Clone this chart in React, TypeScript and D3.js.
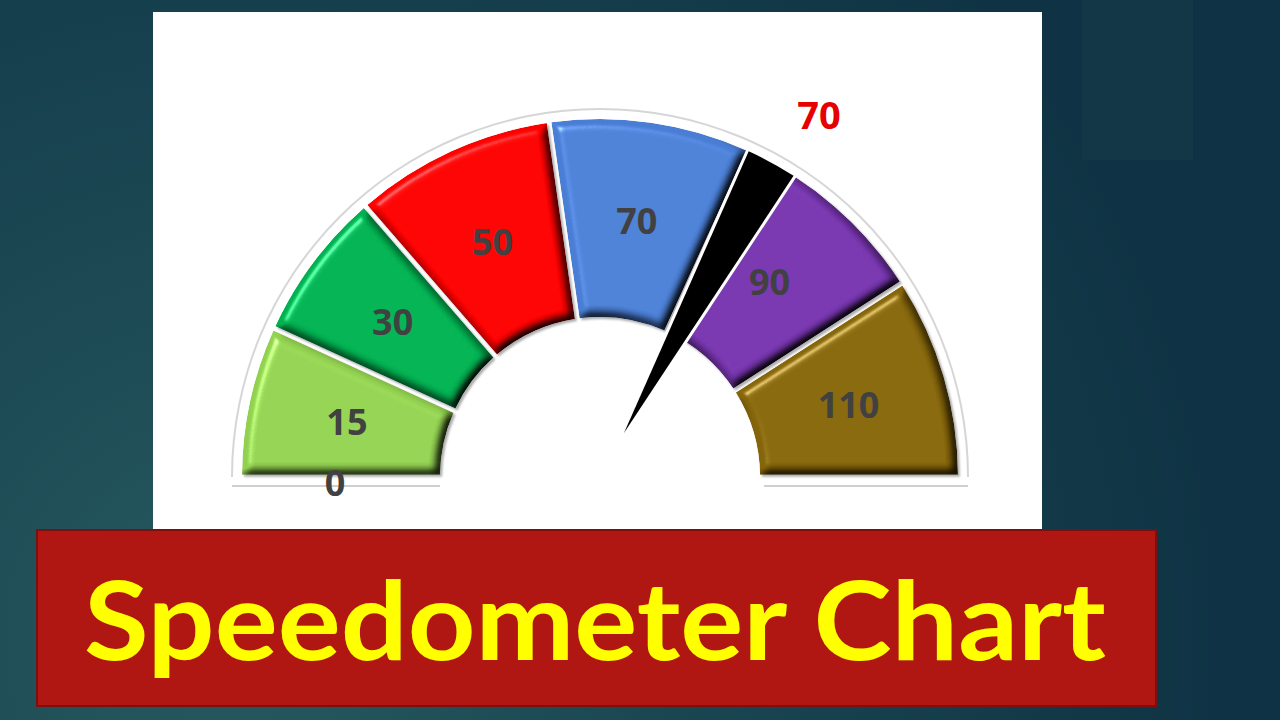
import { useEffect, useRef } from "react";
import * as d3 from "d3";

// Gauge bands: upper bound of each range, 0..110
const BAND_LIMITS = [0, 15, 30, 50, 70, 90, 110];
const BAND_LABELS = ["15", "30", "50", "70", "90", "110"];
const BAND_COLORS = ["#92d050", "#00b050", "#ff0000", "#4a7ed4", "#7634ad", "#85650a"];
const START_LABEL = "0";

const NEEDLE_VALUE = 70;
const NEEDLE_WIDTH = 5;

const TITLE = "Speedometer Chart";

const W = 1280;
const H = 720;

export default function App() {
  const gaugeRef = useRef<SVGGElement>(null);

  useEffect(() => {
    if (!gaugeRef.current) return;
    const g = d3.select(gaugeRef.current);
    g.selectAll("*").remove();

    const cx = 600;
    const cy = 477;
    const rIn = 160;
    const rOut = 358;

    // value -> angle, 0 on the left, max on the right
    const angle = d3
      .scaleLinear()
      .domain([BAND_LIMITS[0], BAND_LIMITS[BAND_LIMITS.length - 1]])
      .range([-Math.PI / 2, Math.PI / 2]);

    const root = g.append("g").attr("transform", `translate(${cx},${cy})`);

    // faint outer ring + base shadow lines
    root
      .append("path")
      .attr(
        "d",
        d3.arc()({ innerRadius: rOut + 9, outerRadius: rOut + 11, startAngle: angle(0), endAngle: angle(110) }) as string,
      )
      .attr("fill", "#d6d6d6");
    root
      .append("line")
      .attr("x1", -rOut - 10).attr("x2", -rIn).attr("y1", 9).attr("y2", 9)
      .attr("stroke", "#d0d0d0").attr("stroke-width", 2);
    root
      .append("line")
      .attr("x1", rIn + 4).attr("x2", rOut + 10).attr("y1", 9).attr("y2", 9)
      .attr("stroke", "#d0d0d0").attr("stroke-width", 2);

    const bands = BAND_LABELS.map((label, i) => ({
      label,
      color: BAND_COLORS[i],
      from: BAND_LIMITS[i],
      to: BAND_LIMITS[i + 1],
    }));

    const arc = d3
      .arc<{ from: number; to: number }>()
      .innerRadius(rIn)
      .outerRadius(rOut)
      .startAngle((d) => angle(d.from))
      .endAngle((d) => angle(d.to))
      .padAngle(0.013)
      .padRadius(rOut);

    root
      .selectAll("path.band")
      .data(bands)
      .enter()
      .append("path")
      .attr("class", "band")
      .attr("d", (d) => arc(d) as string)
      .attr("fill", (d) => d.color)
      .attr("filter", "url(#bevel)");

    root
      .selectAll("text.band-label")
      .data(bands)
      .enter()
      .append("text")
      .attr("class", "band-label")
      .attr("x", (d) => arc.centroid(d)[0])
      .attr("y", (d) => arc.centroid(d)[1])
      .attr("text-anchor", "middle")
      .attr("dominant-baseline", "central")
      .attr("fill", "#414141")
      .attr("font-family", "'Open Sans', sans-serif")
      .attr("font-weight", 700)
      .attr("font-size", "36px")
      .text((d) => d.label);

    // start value under the first band
    const [sx, sy] = d3.pointRadial(angle(BAND_LIMITS[0]), (rIn + rOut) / 2 + 6);
    root
      .append("text")
      .attr("x", sx).attr("y", sy + 5)
      .attr("text-anchor", "middle").attr("dominant-baseline", "central")
      .attr("fill", "#414141")
      .attr("font-family", "'Open Sans', sans-serif")
      .attr("font-weight", 700).attr("font-size", "36px")
      .text(START_LABEL);

    // needle: narrow wedge, tip slightly off the centre
    const a0 = angle(NEEDLE_VALUE);
    const a1 = angle(NEEDLE_VALUE + NEEDLE_WIDTH);
    const tip = d3.pointRadial((a0 + a1) / 2, 50);
    const p0 = d3.pointRadial(a0, rOut);
    const path = d3.path();
    path.moveTo(tip[0], tip[1]);
    path.lineTo(p0[0], p0[1]);
    path.arc(0, 0, rOut, a0 - Math.PI / 2, a1 - Math.PI / 2);
    path.closePath();
    // white halo first, then the black wedge so the tip stays sharp
    root
      .append("path")
      .attr("d", path.toString())
      .attr("fill", "#fff")
      .attr("stroke", "#fff")
      .attr("stroke-width", 6)
      .attr("stroke-linejoin", "round");
    root
      .append("path")
      .attr("d", path.toString())
      .attr("fill", "#000");

    const [lx, ly] = d3.pointRadial(angle(NEEDLE_VALUE + NEEDLE_WIDTH * 0.8), 424);
    root
      .append("text")
      .attr("x", lx).attr("y", ly)
      .attr("text-anchor", "middle").attr("dominant-baseline", "central")
      .attr("fill", "#e60000")
      .attr("font-family", "'Open Sans', sans-serif")
      .attr("font-weight", 700).attr("font-size", "38px")
      .text(String(NEEDLE_VALUE));
  }, []);

  return (
    <svg
      width={W}
      height={H}
      viewBox={`0 0 ${W} ${H}`}
      style={{ position: "fixed", left: 0, top: 0, display: "block" }}
    >
      <defs>
        <radialGradient id="bg" cx="230" cy="640" r="1000" gradientUnits="userSpaceOnUse">
          <stop offset="0" stopColor="#27595f" />
          <stop offset="0.45" stopColor="#1a4652" />
          <stop offset="1" stopColor="#0f3344" />
        </radialGradient>
        <filter id="bevel" x="-10%" y="-10%" width="120%" height="120%" colorInterpolationFilters="sRGB">
          <feGaussianBlur in="SourceAlpha" stdDeviation="5" result="blur" />
          <feDiffuseLighting in="blur" surfaceScale="6" diffuseConstant="1.3" lightingColor="#fff" result="diff">
            <feDistantLight azimuth="225" elevation="50" />
          </feDiffuseLighting>
          <feComposite in="SourceGraphic" in2="diff" operator="arithmetic" k1="1" k2="0" k3="0" k4="0" result="lit" />
          <feSpecularLighting in="blur" surfaceScale="6" specularConstant="0.4" specularExponent="45" lightingColor="#fff" result="spec">
            <feDistantLight azimuth="225" elevation="50" />
          </feSpecularLighting>
          <feComposite in="spec" in2="SourceAlpha" operator="in" result="specIn" />
          <feComposite in="lit" in2="specIn" operator="arithmetic" k1="0" k2="1" k3="1" k4="0" result="shaded" />
          <feComposite in="shaded" in2="SourceAlpha" operator="in" result="clipped" />
          <feGaussianBlur in="SourceAlpha" stdDeviation="1.2" result="sb" />
          <feOffset in="sb" dx="1.5" dy="1.5" result="so" />
          <feFlood floodColor="#8a8a8a" floodOpacity="0.7" />
          <feComposite in2="so" operator="in" result="shadow" />
          <feMerge>
            <feMergeNode in="shadow" />
            <feMergeNode in="clipped" />
          </feMerge>
        </filter>
      </defs>

      <rect x={0} y={0} width={W} height={H} fill="url(#bg)" />
      <rect x={1082} y={0} width={111} height={160} fill="#ffffff" opacity={0.02} />

      {/* chart area */}
      <rect x={153} y={12} width={889} height={520} fill="#ffffff" />
      <g ref={gaugeRef} />

      {/* title banner */}
      <rect x={37} y={530} width={1119} height={176} fill="#b01713" stroke="#7c1010" strokeWidth={2} />
      <text
        x={84}
        y={660}
        textLength={1022}
        lengthAdjust="spacingAndGlyphs"
        fill="#ffff00"
        fontFamily="Lato, 'Open Sans', sans-serif"
        fontWeight={700}
        fontSize={110}
      >
        {TITLE}
      </text>
    </svg>
  );
}
